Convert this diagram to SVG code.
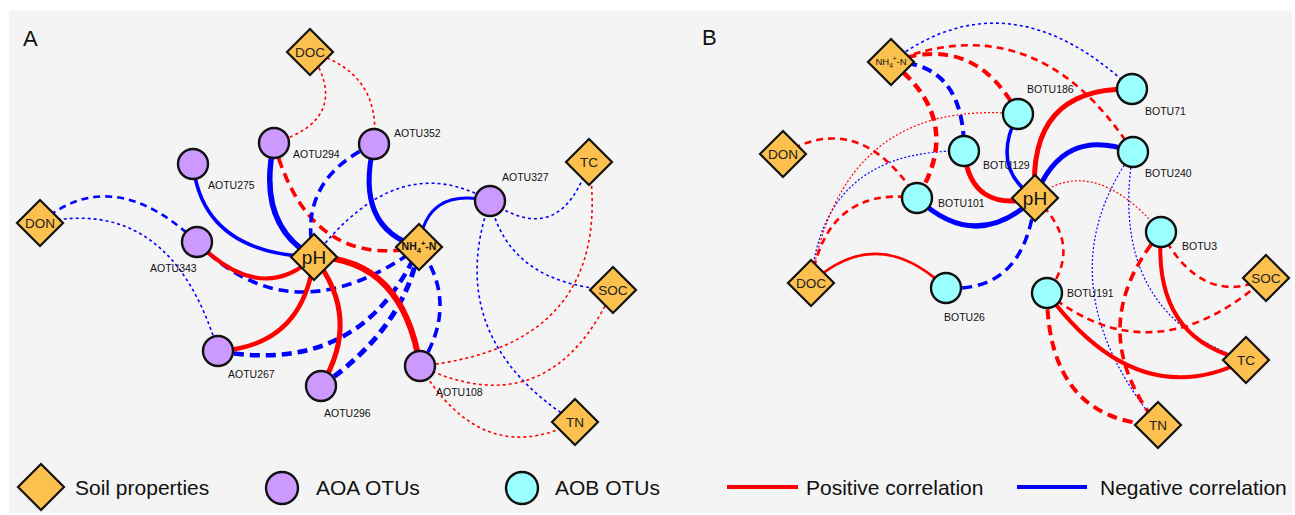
<svg xmlns="http://www.w3.org/2000/svg" width="1295" height="515" viewBox="0 0 1295 515">
  <style>
    .bg { fill: #f4f4f4; }
    .e { fill: none; stroke-linecap: butt; }
    .p { stroke: #ff0000; }
    .n { stroke: #0000ff; }
    .dot { stroke-width: 1.6; stroke-dasharray: 3 3; }
    .dotf { stroke-width: 1.2; stroke-dasharray: 2 2; }
    .dm { stroke-width: 2.6; stroke-dasharray: 7 5; }
    .dt { stroke-width: 4; stroke-dasharray: 10 6; }
    .soil { fill: #fbc04d; stroke: #111; stroke-width: 2.2; stroke-linejoin: miter; }
    .aoa { fill: #cc99ff; stroke: #111; stroke-width: 2.4; }
    .aob { fill: #99ffff; stroke: #111; stroke-width: 2.4; }
    .lab { font-family: "Liberation Sans", Arial, sans-serif; font-size: 10.5px; fill: #111; }
    .dlab { font-family: "Liberation Sans", Arial, sans-serif; font-size: 13.5px; fill: #222; text-anchor: middle; }
    .ph { font-family: "Liberation Sans", Arial, sans-serif; font-size: 19px; fill: #111; text-anchor: middle; }
    .nh { font-family: "Liberation Sans", Arial, sans-serif; fill: #111; text-anchor: middle; }
    .panel { font-family: "Liberation Sans", Arial, sans-serif; font-size: 22px; fill: #111; }
    .leg { font-family: "Liberation Sans", Arial, sans-serif; font-size: 21px; fill: #111; }
  </style>
  <defs>
    <path id="dia" d="M0,-23 L23,0 L0,23 L-23,0 Z"/>
  </defs>

  <rect class="bg" x="9" y="11" width="1283" height="502"/>

  <text class="panel" x="23" y="46">A</text>
  <text class="panel" x="702" y="45">B</text>

  <!-- correlation edges, panel A -->
  <g id="edges-a" class="e">
    <path class="p dot" d="M310,52 Q354,118.5 274,143"/>
    <path class="p dot" d="M310,52 Q382,72 374,144"/>
    <path class="n dot" d="M40,223 Q171,193 218,351"/>
    <path class="n dot" d="M314,257 Q398,147 490,201"/>
    <path class="n dot" d="M490,201 Q560.5,250.5 589,162"/>
    <path class="n dot" d="M490,201 Q508.5,284.5 613,290"/>
    <path class="n dot" d="M490,201 Q441.5,338.5 575,422"/>
    <path class="p dot" d="M589,162 Q615.5,346 420,366"/>
    <path class="p dot" d="M613,290 Q549.5,428 420,366"/>
    <path class="p dot" d="M420,366 Q482.5,470 575,422"/>
    <path class="n dm" d="M40,223 Q111.5,161.5 197,242"/>
    <path class="p dt" style="stroke-width:3.6" d="M274,143 Q309.5,271 419,247"/>
    <path class="n dt" style="stroke-width:3.6" d="M374,144 Q296,179.5 314,257"/>
    <path class="n dt" style="stroke-width:3.6" d="M197,242 Q292,339.5 419,247"/>
    <path class="n dt" style="stroke-width:4.5" d="M218,351 Q361.5,377 419,247"/>
    <path class="n dt" style="stroke-width:5" d="M321,386 Q406,327.5 419,247"/>
    <path class="n dt" style="stroke-width:3.6" d="M420,366 Q460.5,303.5 419,247"/>
    <path class="n" style="stroke-width:5.5" d="M274,143 Q256,226 314,257"/>
    <path class="n" style="stroke-width:5" d="M374,144 Q353.5,228.5 419,247"/>
    <path class="n" style="stroke-width:3.5" d="M193,164 Q202.5,253.5 314,257"/>
    <path class="n" style="stroke-width:3" d="M419,247 Q425.5,186 490,201"/>
    <path class="p" style="stroke-width:4" d="M197,242 Q260.5,306.5 314,257"/>
    <path class="p" style="stroke-width:4.5" d="M218,351 Q304,346 314,257"/>
    <path class="p" style="stroke-width:5" d="M321,386 Q362.5,318.5 314,257"/>
    <path class="p" style="stroke-width:6" d="M314,257 Q403,258.5 420,366"/>
  </g>

  <!-- correlation edges, panel B -->
  <g id="edges-b" class="e">
    <path class="n dot" d="M891,62 Q1008.5,-27.5 1132,89"/>
    <path class="n dotf" d="M811,283 Q822.5,149 964,151"/>
    <path class="p dotf" d="M811,283 Q841.5,97.5 1018,114"/>
    <path class="p dotf" d="M1035,198 Q1092,151 1161,232"/>
    <path class="n dotf" d="M1133,152 Q1040.5,281.5 1158,425"/>
    <path class="n dotf" d="M1133,152 Q1106.5,314 1246,360"/>
    <path class="p dm" d="M891,62 Q1038,3 1133,152"/>
    <path class="p dm" d="M783,154 Q860,108 917,198"/>
    <path class="p dm" d="M917,198 Q826,185.5 811,283"/>
    <path class="p dm" d="M1035,198 Q1085,244.5 1047,293"/>
    <path class="p dm" d="M1161,232 Q1202.5,309 1266,278"/>
    <path class="p dm" d="M1047,293 Q1153.5,378.5 1266,278"/>
    <path class="p dt" d="M891,62 Q975.5,32 1018,114"/>
    <path class="n dt" d="M891,62 Q964.5,61.5 964,151"/>
    <path class="p dt" style="stroke-width:4.5" d="M891,62 Q966,120 917,198"/>
    <path class="n dt" style="stroke-width:3.5" d="M946,288 Q1025.5,293 1035,198"/>
    <path class="p dt" style="stroke-width:3.6" d="M1161,232 Q1080.5,327.5 1158,425"/>
    <path class="p dt" d="M1047,293 Q1047.5,421 1158,425"/>
    <path class="p" style="stroke-width:2.6" d="M811,283 Q877.5,222.5 946,288"/>
    <path class="n" style="stroke-width:5" d="M917,198 Q976,254 1035,198"/>
    <path class="p" style="stroke-width:5" d="M964,151 Q970.5,213.5 1035,198"/>
    <path class="n" style="stroke-width:3.5" d="M1018,114 Q989.5,168 1035,198"/>
    <path class="p" style="stroke-width:5" d="M1035,198 Q1026.5,86.5 1132,89"/>
    <path class="n" style="stroke-width:5" d="M1035,198 Q1062,125 1133,152"/>
    <path class="p" style="stroke-width:4" d="M1161,232 Q1152.5,340 1246,360"/>
    <path class="p" style="stroke-width:4" d="M1047,293 Q1137.5,415.5 1246,360"/>
  </g>

  <!-- panel A nodes -->
  <g id="a-doc"><use href="#dia" class="soil" x="310" y="52"/><text class="dlab" x="310" y="57">DOC</text></g>
  <g id="a-don"><use href="#dia" class="soil" x="40" y="223"/><text class="dlab" x="40" y="228">DON</text></g>
  <g id="a-tc"><use href="#dia" class="soil" x="589" y="162"/><text class="dlab" x="589" y="167">TC</text></g>
  <g id="a-soc"><use href="#dia" class="soil" x="613" y="290"/><text class="dlab" x="613" y="295">SOC</text></g>
  <g id="a-tn"><use href="#dia" class="soil" x="575" y="422"/><text class="dlab" x="575" y="427">TN</text></g>
  <g id="a-ph"><use href="#dia" class="soil" x="314" y="257"/><text class="ph" x="314" y="264">pH</text></g>
  <g id="a-nh4"><use href="#dia" class="soil" x="419" y="247"/>
    <text class="nh" x="419" y="250" font-size="10.5" font-weight="bold">NH<tspan font-size="7.5" dy="3">4</tspan><tspan font-size="7.5" dy="-7">+</tspan><tspan dy="4">-N</tspan></text></g>

  <g id="aotu294"><circle class="aoa" cx="274" cy="143" r="15"/><text class="lab" x="293" y="158">AOTU294</text></g>
  <g id="aotu275"><circle class="aoa" cx="193" cy="164" r="15"/><text class="lab" x="208" y="189">AOTU275</text></g>
  <g id="aotu352"><circle class="aoa" cx="374" cy="144" r="15"/><text class="lab" x="394" y="137">AOTU352</text></g>
  <g id="aotu327"><circle class="aoa" cx="490" cy="201" r="15"/><text class="lab" x="502" y="181">AOTU327</text></g>
  <g id="aotu343"><circle class="aoa" cx="197" cy="242" r="15"/><text class="lab" x="150" y="272">AOTU343</text></g>
  <g id="aotu267"><circle class="aoa" cx="218" cy="351" r="15"/><text class="lab" x="228" y="378">AOTU267</text></g>
  <g id="aotu296"><circle class="aoa" cx="321" cy="386" r="15"/><text class="lab" x="324" y="417">AOTU296</text></g>
  <g id="aotu108"><circle class="aoa" cx="420" cy="366" r="15"/><text class="lab" x="436" y="396">AOTU108</text></g>

  <!-- panel B nodes -->
  <g id="b-nh4"><use href="#dia" class="soil" x="891" y="62"/>
    <text class="nh" x="891" y="65" font-size="9.5">NH<tspan font-size="6.5" dy="3">4</tspan><tspan font-size="6.5" dy="-7">+</tspan><tspan dy="4">-N</tspan></text></g>
  <g id="b-don"><use href="#dia" class="soil" x="783" y="154"/><text class="dlab" x="783" y="159">DON</text></g>
  <g id="b-doc"><use href="#dia" class="soil" x="811" y="283"/><text class="dlab" x="811" y="288">DOC</text></g>
  <g id="b-ph"><use href="#dia" class="soil" x="1035" y="198"/><text class="ph" x="1035" y="205">pH</text></g>
  <g id="b-soc"><use href="#dia" class="soil" x="1266" y="278"/><text class="dlab" x="1266" y="283">SOC</text></g>
  <g id="b-tc"><use href="#dia" class="soil" x="1246" y="360"/><text class="dlab" x="1246" y="365">TC</text></g>
  <g id="b-tn"><use href="#dia" class="soil" x="1158" y="425"/><text class="dlab" x="1158" y="430">TN</text></g>

  <g id="botu186"><circle class="aob" cx="1018" cy="114" r="15"/><text class="lab" x="1027" y="93">BOTU186</text></g>
  <g id="botu129"><circle class="aob" cx="964" cy="151" r="15"/><text class="lab" x="983" y="169">BOTU129</text></g>
  <g id="botu101"><circle class="aob" cx="917" cy="198" r="15"/><text class="lab" x="938" y="207">BOTU101</text></g>
  <g id="botu26"><circle class="aob" cx="946" cy="288" r="15"/><text class="lab" x="944" y="321">BOTU26</text></g>
  <g id="botu71"><circle class="aob" cx="1132" cy="89" r="15"/><text class="lab" x="1145" y="115">BOTU71</text></g>
  <g id="botu240"><circle class="aob" cx="1133" cy="152" r="15"/><text class="lab" x="1145" y="177">BOTU240</text></g>
  <g id="botu3"><circle class="aob" cx="1161" cy="232" r="15"/><text class="lab" x="1182" y="250">BOTU3</text></g>
  <g id="botu191"><circle class="aob" cx="1047" cy="293" r="15"/><text class="lab" x="1067" y="297">BOTU191</text></g>

  <!-- legend -->
  <g id="legend">
    <use href="#dia" class="soil" x="41" y="487"/>
    <text class="leg" x="75" y="495">Soil properties</text>
    <circle class="aoa" cx="282" cy="488" r="16"/>
    <text class="leg" x="316" y="495">AOA OTUs</text>
    <circle class="aob" cx="522" cy="488" r="16"/>
    <text class="leg" x="555" y="495">AOB OTUs</text>
    <line x1="727" y1="487" x2="798" y2="487" stroke="#ff0000" stroke-width="4"/>
    <text class="leg" x="806" y="495">Positive correlation</text>
    <line x1="1017" y1="487" x2="1087" y2="487" stroke="#0000ff" stroke-width="4"/>
    <text class="leg" x="1100" y="495">Negative correlation</text>
  </g>
</svg>
